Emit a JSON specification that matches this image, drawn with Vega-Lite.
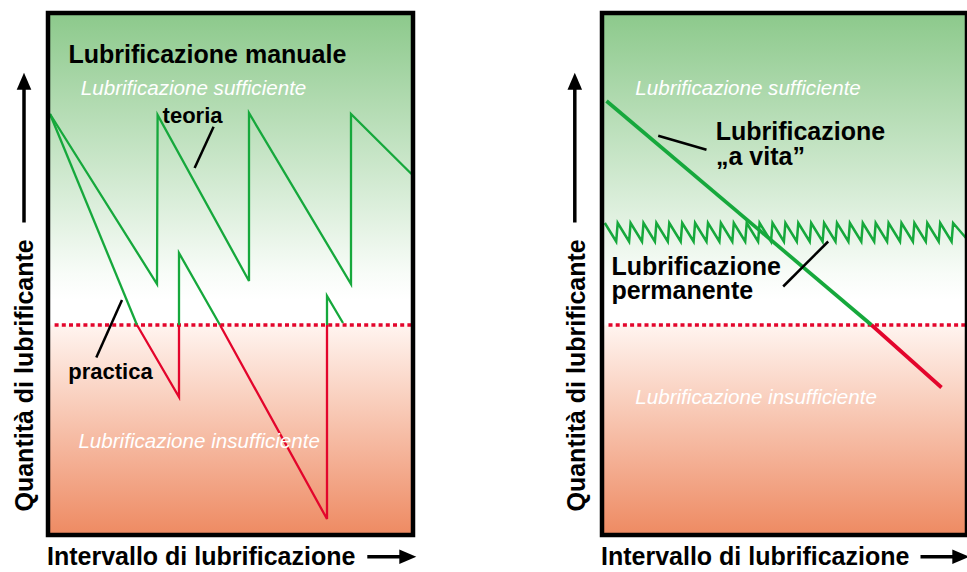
{
  "$schema": "https://vega.github.io/schema/vega-lite/v6.json",
  "padding": {"left": 11, "top": 10, "right": 0, "bottom": 0},
  "autosize": "pad",
  "spacing": 189,
  "bounds": "flush",
  "config": {"view": {"stroke": null}, "font": "Liberation Sans"},
  "datasets": {
    "panel": [{"x": 0, "x2": 365, "y": 0, "y2": 522}],
    "dotL": [{"x": 6.6, "x2": 363, "y": 210}],
    "dotR": [{"x": 6.5, "x2": 364, "y": 210}],
    "teoria": [
      {"i": 0, "x": 2, "y": 421}, {"i": 1, "x": 109, "y": 251}, {"i": 2, "x": 109.6, "y": 420},
      {"i": 3, "x": 201, "y": 254}, {"i": 4, "x": 201, "y": 422}, {"i": 5, "x": 303, "y": 251},
      {"i": 6, "x": 303, "y": 421}, {"i": 7, "x": 363.5, "y": 361}
    ],
    "practica": [
      {"seg": "a", "zone": "ok", "i": 0, "x": 2, "y": 421}, {"seg": "a", "zone": "ok", "i": 1, "x": 89, "y": 210},
      {"seg": "b", "zone": "low", "i": 0, "x": 89, "y": 210}, {"seg": "b", "zone": "low", "i": 1, "x": 131, "y": 138}, {"seg": "b", "zone": "low", "i": 2, "x": 131, "y": 210},
      {"seg": "c", "zone": "ok", "i": 0, "x": 131, "y": 210}, {"seg": "c", "zone": "ok", "i": 1, "x": 131, "y": 282}, {"seg": "c", "zone": "ok", "i": 2, "x": 172, "y": 210},
      {"seg": "d", "zone": "low", "i": 0, "x": 172, "y": 210}, {"seg": "d", "zone": "low", "i": 1, "x": 279, "y": 16}, {"seg": "d", "zone": "low", "i": 2, "x": 279, "y": 210},
      {"seg": "e", "zone": "ok", "i": 0, "x": 279, "y": 210}, {"seg": "e", "zone": "ok", "i": 1, "x": 279, "y": 239}, {"seg": "e", "zone": "ok", "i": 2, "x": 295, "y": 212}
    ],
    "vita": [
      {"seg": "a", "zone": "ok", "i": 0, "x": 4.5, "y": 434}, {"seg": "a", "zone": "ok", "i": 1, "x": 269.5, "y": 210},
      {"seg": "b", "zone": "low", "i": 0, "x": 269.5, "y": 210}, {"seg": "b", "zone": "low", "i": 1, "x": 339.5, "y": 147.5}
    ],
    "zig": [
      {"i": 0, "x": 2.8, "y": 312}, {"i": 1, "x": 14.2, "y": 293.5}, {"i": 2, "x": 15.7, "y": 312}, {"i": 3, "x": 27.1, "y": 293.5},
      {"i": 4, "x": 28.6, "y": 312}, {"i": 5, "x": 40.0, "y": 293.5}, {"i": 6, "x": 41.5, "y": 312}, {"i": 7, "x": 52.9, "y": 293.5},
      {"i": 8, "x": 54.4, "y": 312}, {"i": 9, "x": 65.8, "y": 293.5}, {"i": 10, "x": 67.3, "y": 312}, {"i": 11, "x": 78.7, "y": 293.5},
      {"i": 12, "x": 80.2, "y": 312}, {"i": 13, "x": 91.6, "y": 293.5}, {"i": 14, "x": 93.1, "y": 312}, {"i": 15, "x": 104.5, "y": 293.5},
      {"i": 16, "x": 106.0, "y": 312}, {"i": 17, "x": 117.4, "y": 293.5}, {"i": 18, "x": 118.9, "y": 312}, {"i": 19, "x": 130.3, "y": 293.5},
      {"i": 20, "x": 131.8, "y": 312}, {"i": 21, "x": 143.2, "y": 293.5}, {"i": 22, "x": 144.7, "y": 312}, {"i": 23, "x": 156.1, "y": 293.5},
      {"i": 24, "x": 157.6, "y": 312}, {"i": 25, "x": 169.0, "y": 293.5}, {"i": 26, "x": 170.5, "y": 312}, {"i": 27, "x": 181.9, "y": 293.5},
      {"i": 28, "x": 183.4, "y": 312}, {"i": 29, "x": 194.8, "y": 293.5}, {"i": 30, "x": 196.3, "y": 312}, {"i": 31, "x": 207.7, "y": 293.5},
      {"i": 32, "x": 209.2, "y": 312}, {"i": 33, "x": 220.6, "y": 293.5}, {"i": 34, "x": 222.1, "y": 312}, {"i": 35, "x": 233.5, "y": 293.5},
      {"i": 36, "x": 235.0, "y": 312}, {"i": 37, "x": 246.4, "y": 293.5}, {"i": 38, "x": 247.9, "y": 312}, {"i": 39, "x": 259.3, "y": 293.5},
      {"i": 40, "x": 260.8, "y": 312}, {"i": 41, "x": 272.2, "y": 293.5}, {"i": 42, "x": 273.7, "y": 312}, {"i": 43, "x": 285.1, "y": 293.5},
      {"i": 44, "x": 286.6, "y": 312}, {"i": 45, "x": 298.0, "y": 293.5}, {"i": 46, "x": 299.5, "y": 312}, {"i": 47, "x": 310.9, "y": 293.5},
      {"i": 48, "x": 312.4, "y": 312}, {"i": 49, "x": 323.8, "y": 293.5}, {"i": 50, "x": 325.3, "y": 312}, {"i": 51, "x": 336.7, "y": 293.5},
      {"i": 52, "x": 338.2, "y": 312}, {"i": 53, "x": 349.6, "y": 293.5}, {"i": 54, "x": 351.1, "y": 312}, {"i": 55, "x": 364, "y": 297}
    ],
    "leadL": [{"x": 165.6, "y": 408.2, "x2": 146.6, "y2": 366.9}, {"x": 74, "y": 234.9, "x2": 48.3, "y2": 177.5}],
    "leadR": [{"x": 56.2, "y": 399.2, "x2": 104.5, "y2": 385.2}, {"x": 226.2, "y": 293.5, "x2": 181.2, "y2": 248.5}],
    "bigL": [{"x": 20.5, "y": 472.5, "label": "Lubrificazione manuale"}],
    "midL": [{"x": 114.6, "y": 412.5, "label": "teoria"}, {"x": 20.3, "y": 156.5, "label": "practica"}],
    "italL": [{"x": 32.8, "y": 440, "label": "Lubrificazione sufficiente"}, {"x": 30.4, "y": 87.5, "label": "Lubrificazione insufficiente"}],
    "bigR": [
      {"x": 113.7, "y": 395, "label": "Lubrificazione"}, {"x": 114, "y": 370, "label": "„a vita”"},
      {"x": 9.4, "y": 260, "label": "Lubrificazione"}, {"x": 9.4, "y": 236, "label": "permanente"}
    ],
    "italR": [{"x": 33.3, "y": 440, "label": "Lubrificazione sufficiente"}, {"x": 33.3, "y": 131, "label": "Lubrificazione insufficiente"}],
    "arrLineL": [{"x": -24, "y": 312.5, "x2": -24, "y2": 446}, {"x": 319.3, "y": -21.8, "x2": 352, "y2": -21.8}],
    "arrUpL": [{"x": -24, "y": 445.2}],
    "arrRightL": [{"x": 351.3, "y": -21.8}],
    "arrLineR": [{"x": -27.2, "y": 312.5, "x2": -27.2, "y2": 446}, {"x": 318.5, "y": -21.8, "x2": 351, "y2": -21.8}],
    "arrUpR": [{"x": -27.2, "y": 445.2}],
    "arrRightR": [{"x": 350.3, "y": -21.8}]
  },
  "hconcat": [
    {
      "width": 365,
      "height": 522,
      "encoding": {
        "x": {"field": "x", "type": "quantitative", "scale": {"domain": [0, 365], "nice": false, "zero": false},
          "axis": {"title": "Intervallo di lubrificazione", "domain": false, "ticks": false, "labels": false, "grid": false,
            "titleFont": "Liberation Sans", "titleFontSize": 25, "titleFontWeight": "bold", "titleColor": "black",
            "titleX": -1.5, "titleY": 29, "titleAlign": "left", "titleBaseline": "alphabetic", "titleAngle": 0}},
        "y": {"field": "y", "type": "quantitative", "scale": {"domain": [0, 522], "nice": false, "zero": false},
          "axis": {"title": "Quantità di lubrificante", "domain": false, "ticks": false, "labels": false, "grid": false,
            "titleFont": "Liberation Sans", "titleFontSize": 25, "titleFontWeight": "bold", "titleColor": "black",
            "titleX": -16, "titleY": 498, "titleAlign": "left", "titleBaseline": "alphabetic", "titleAngle": 270}}
      },
      "layer": [
        {"data": {"name": "panel"},
         "mark": {"type": "rect", "fill": {"gradient": "linear", "x1": 0, "y1": 0, "x2": 0, "y2": 1,
           "stops": [{"offset": 0, "color": "#8cc98b"}, {"offset": 0.5, "color": "#f8fcf8"}, {"offset": 0.55, "color": "#ffffff"},
                     {"offset": 0.596, "color": "#ffffff"}, {"offset": 0.6, "color": "#fff4ef"}, {"offset": 1, "color": "#ee8a62"}]}},
         "encoding": {"x2": {"field": "x2"}, "y2": {"field": "y2"}}},
        {"data": {"name": "dotL"},
         "mark": {"type": "rule", "color": "#e3052c", "strokeWidth": 3.3, "strokeDash": [4, 3.2]},
         "encoding": {"x2": {"field": "x2"}}},
        {"data": {"name": "teoria"},
         "mark": {"type": "line", "color": "#16a83c", "strokeWidth": 2.3},
         "encoding": {"order": {"field": "i", "type": "quantitative"}}},
        {"data": {"name": "practica"},
         "mark": {"type": "line", "strokeWidth": 2.3},
         "encoding": {
           "color": {"field": "zone", "type": "nominal", "scale": {"domain": ["ok", "low"], "range": ["#16a83c", "#e3052c"]}, "legend": null},
           "detail": {"field": "seg"},
           "order": {"field": "i", "type": "quantitative"}}},
        {"data": {"name": "leadL"},
         "mark": {"type": "rule", "color": "black", "strokeWidth": 2.5},
         "encoding": {"x2": {"field": "x2"}, "y2": {"field": "y2"}}},
        {"data": {"name": "bigL"},
         "mark": {"type": "text", "align": "left", "baseline": "alphabetic", "font": "Liberation Sans", "fontSize": 25, "fontWeight": "bold", "color": "black"},
         "encoding": {"text": {"field": "label"}}},
        {"data": {"name": "midL"},
         "mark": {"type": "text", "align": "left", "baseline": "alphabetic", "font": "Liberation Sans", "fontSize": 22, "fontWeight": "bold", "color": "black"},
         "encoding": {"text": {"field": "label"}}},
        {"data": {"name": "italL"},
         "mark": {"type": "text", "align": "left", "baseline": "alphabetic", "font": "Liberation Sans", "fontSize": 20.6, "fontStyle": "italic", "color": "white"},
         "encoding": {"text": {"field": "label"}}},
        {"data": {"name": "panel"},
         "mark": {"type": "rect", "fill": "white", "fillOpacity": 0, "stroke": "black", "strokeWidth": 4.5},
         "encoding": {"x2": {"field": "x2"}, "y2": {"field": "y2"}}},
        {"data": {"name": "arrLineL"},
         "mark": {"type": "rule", "color": "black", "strokeWidth": 3.5},
         "encoding": {"x2": {"field": "x2"}, "y2": {"field": "y2"}}},
        {"data": {"name": "arrUpL"},
         "mark": {"type": "point", "shape": "M-1,0L1,0L0,-2.33Z", "size": 213, "filled": true, "color": "black", "opacity": 1, "strokeWidth": 0}},
        {"data": {"name": "arrRightL"},
         "mark": {"type": "point", "shape": "M0,-1L0,1L2.33,0Z", "size": 213, "filled": true, "color": "black", "opacity": 1, "strokeWidth": 0}}
      ]
    },
    {
      "width": 365,
      "height": 522,
      "encoding": {
        "x": {"field": "x", "type": "quantitative", "scale": {"domain": [0, 365], "nice": false, "zero": false},
          "axis": {"title": "Intervallo di lubrificazione", "domain": false, "ticks": false, "labels": false, "grid": false,
            "titleFont": "Liberation Sans", "titleFontSize": 25, "titleFontWeight": "bold", "titleColor": "black",
            "titleX": -1.5, "titleY": 29, "titleAlign": "left", "titleBaseline": "alphabetic", "titleAngle": 0}},
        "y": {"field": "y", "type": "quantitative", "scale": {"domain": [0, 522], "nice": false, "zero": false},
          "axis": {"title": "Quantità di lubrificante", "domain": false, "ticks": false, "labels": false, "grid": false,
            "titleFont": "Liberation Sans", "titleFontSize": 25, "titleFontWeight": "bold", "titleColor": "black",
            "titleX": -18, "titleY": 498, "titleAlign": "left", "titleBaseline": "alphabetic", "titleAngle": 270}}
      },
      "layer": [
        {"data": {"name": "panel"},
         "mark": {"type": "rect", "fill": {"gradient": "linear", "x1": 0, "y1": 0, "x2": 0, "y2": 1,
           "stops": [{"offset": 0, "color": "#8cc98b"}, {"offset": 0.5, "color": "#f8fcf8"}, {"offset": 0.55, "color": "#ffffff"},
                     {"offset": 0.596, "color": "#ffffff"}, {"offset": 0.6, "color": "#fff4ef"}, {"offset": 1, "color": "#ee8a62"}]}},
         "encoding": {"x2": {"field": "x2"}, "y2": {"field": "y2"}}},
        {"data": {"name": "dotR"},
         "mark": {"type": "rule", "color": "#e3052c", "strokeWidth": 3.3, "strokeDash": [4, 3.2]},
         "encoding": {"x2": {"field": "x2"}}},
        {"data": {"name": "zig"},
         "mark": {"type": "line", "color": "#16a83c", "strokeWidth": 2.5},
         "encoding": {"order": {"field": "i", "type": "quantitative"}}},
        {"data": {"name": "vita"},
         "mark": {"type": "line", "strokeWidth": 3.7},
         "encoding": {
           "color": {"field": "zone", "type": "nominal", "scale": {"domain": ["ok", "low"], "range": ["#16a83c", "#e3052c"]}, "legend": null},
           "detail": {"field": "seg"},
           "order": {"field": "i", "type": "quantitative"}}},
        {"data": {"name": "leadR"},
         "mark": {"type": "rule", "color": "black", "strokeWidth": 2.5},
         "encoding": {"x2": {"field": "x2"}, "y2": {"field": "y2"}}},
        {"data": {"name": "bigR"},
         "mark": {"type": "text", "align": "left", "baseline": "alphabetic", "font": "Liberation Sans", "fontSize": 25, "fontWeight": "bold", "color": "black"},
         "encoding": {"text": {"field": "label"}}},
        {"data": {"name": "italR"},
         "mark": {"type": "text", "align": "left", "baseline": "alphabetic", "font": "Liberation Sans", "fontSize": 20.6, "fontStyle": "italic", "color": "white"},
         "encoding": {"text": {"field": "label"}}},
        {"data": {"name": "panel"},
         "mark": {"type": "rect", "fill": "white", "fillOpacity": 0, "stroke": "black", "strokeWidth": 4.5},
         "encoding": {"x2": {"field": "x2"}, "y2": {"field": "y2"}}},
        {"data": {"name": "arrLineR"},
         "mark": {"type": "rule", "color": "black", "strokeWidth": 3.5},
         "encoding": {"x2": {"field": "x2"}, "y2": {"field": "y2"}}},
        {"data": {"name": "arrUpR"},
         "mark": {"type": "point", "shape": "M-1,0L1,0L0,-2.33Z", "size": 213, "filled": true, "color": "black", "opacity": 1, "strokeWidth": 0}},
        {"data": {"name": "arrRightR"},
         "mark": {"type": "point", "shape": "M0,-1L0,1L2.33,0Z", "size": 213, "filled": true, "color": "black", "opacity": 1, "strokeWidth": 0}}
      ]
    }
  ]
}
